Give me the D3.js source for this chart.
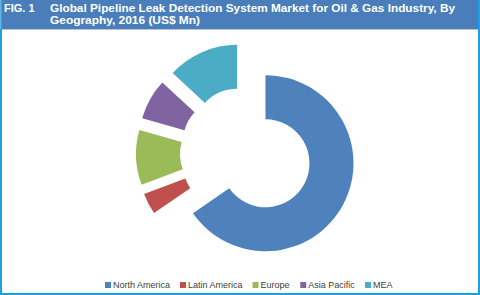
<!DOCTYPE html>
<html>
<head>
<meta charset="utf-8">
<script src="https://cdn.jsdelivr.net/npm/d3@7"></script>
<style>
  body { margin: 0; background: #fff; }
  svg { display: block; }
</style>
</head>
<body>
<svg id="chart" width="480" height="295"></svg>
<script>
// data (US$ Mn, read as shares of the ring)
const regions = ['North America', 'Latin America', 'Europe', 'Asia Pacific', 'MEA'];
const values = [654, 39, 101, 75, 131];
const colors = ['#4F81BD', '#C0504D', '#9BBB59', '#8064A2', '#4BACC6'];
const figLabel = 'FIG. 1';
const titleLines = ['Global Pipeline Leak Detection System Market for Oil & Gas Industry, By',
                    'Geography, 2016 (US$ Mn)'];
const titleWidths = [405, 150];

const width = 480;
const height = 295;
const cx = 246, cy = 153;
const outerR = 88, innerR = 44;
const explode = 22;

const svg = d3.select('#chart');

// frame
svg.append('rect')
  .attr('x', 1).attr('y', 1)
  .attr('width', width - 2).attr('height', height - 2)
  .attr('fill', '#fff')
  .attr('stroke', '#1BA1E2')
  .attr('stroke-width', 2);

// header band
svg.append('rect')
  .attr('x', 0).attr('y', 0)
  .attr('width', width - 2).attr('height', 29)
  .attr('fill', '#4A7EBB');
svg.append('rect')
  .attr('x', 0).attr('y', 0)
  .attr('width', 1.5).attr('height', 29)
  .attr('fill', '#5FB4E6');
svg.append('line')
  .attr('x1', 2).attr('x2', width - 2)
  .attr('y1', 29.5).attr('y2', 29.5)
  .attr('stroke', '#B8C4D0');

svg.append('text')
  .attr('x', 4).attr('y', 12)
  .attr('fill', '#fff')
  .attr('font-family', 'Liberation Sans, Arial, sans-serif')
  .attr('font-weight', 'bold')
  .attr('font-size', 11)
  .text(figLabel);

svg.append('g').selectAll('text')
  .data(titleLines)
  .join('text')
  .attr('x', 50)
  .attr('y', (d, i) => 11.5 + i * 12)
  .attr('fill', '#fff')
  .attr('font-family', 'Liberation Sans, Arial, sans-serif')
  .attr('font-weight', 'bold')
  .attr('font-size', 11)
  .attr('textLength', (d, i) => titleWidths[i])
  .attr('lengthAdjust', 'spacingAndGlyphs')
  .text(d => d);

// donut
const pie = d3.pie().sort(null).value(d => d);
const arc = d3.arc().innerRadius(innerR).outerRadius(outerR);
const slices = pie(values);

svg.append('g')
  .attr('transform', 'translate(' + cx + ',' + cy + ')')
  .selectAll('path')
  .data(slices)
  .join('path')
  .attr('fill', (d, i) => colors[i])
  .attr('transform', d => {
    const a = (d.startAngle + d.endAngle) / 2;
    return 'translate(' + (explode * Math.sin(a)) + ',' + (-explode * Math.cos(a)) + ')';
  })
  .attr('d', arc);

// legend
const legend = svg.append('g').attr('transform', 'translate(0,285)');
const items = legend.selectAll('g')
  .data(regions)
  .join('g');

items.append('rect')
  .attr('y', -3).attr('width', 6).attr('height', 6)
  .attr('fill', (d, i) => colors[i]);

items.append('text')
  .attr('x', 8)
  .attr('dy', '0.35em')
  .attr('fill', '#404040')
  .attr('font-family', 'Liberation Sans, Arial, sans-serif')
  .attr('font-size', 9)
  .text(d => d);

let xpos = 0;
const offsets = [];
items.each(function() {
  offsets.push(xpos);
  xpos += 8 + this.querySelector('text').getComputedTextLength() + 12;
});
const start = 105;
items.attr('transform', (d, i) => 'translate(' + (start + offsets[i] * ((365 - start) / offsets[4])) + ',0)');
</script>
</body>
</html>
